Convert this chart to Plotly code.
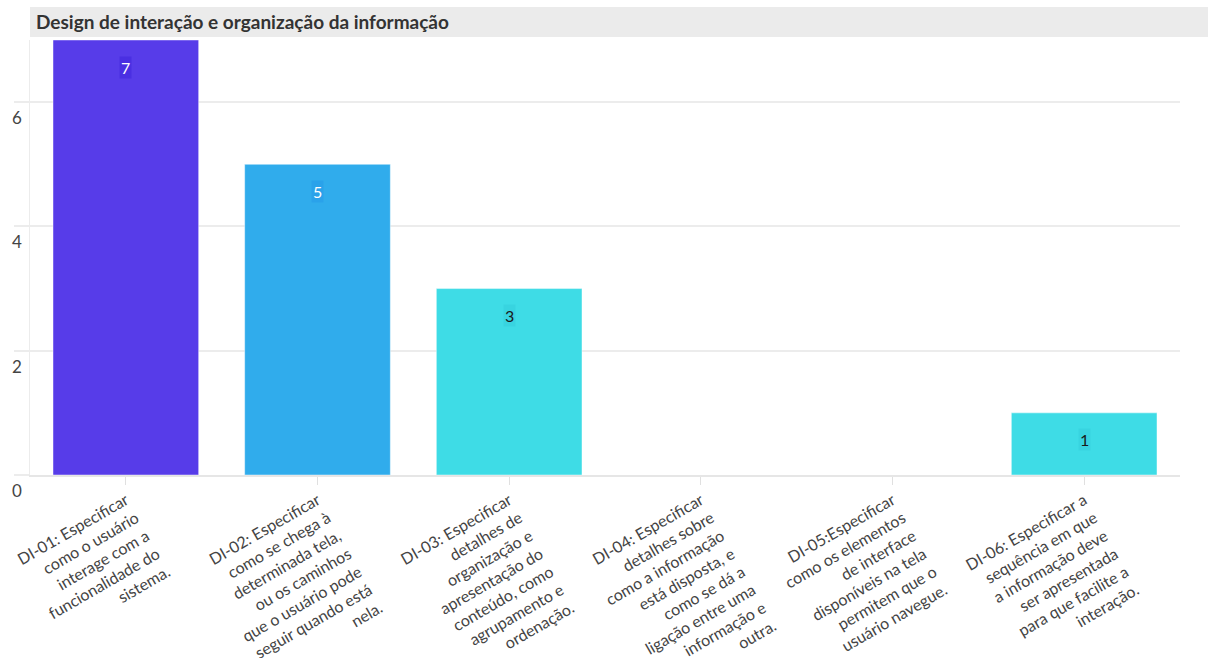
import plotly.graph_objects as go

categories = [
    "DI-01: Especificar<br>como o usuário<br>interage com a<br>funcionalidade do<br>sistema.",
    "DI-02: Especificar<br>como se chega à<br>determinada tela,<br>ou os caminhos<br>que o usuário pode<br>seguir quando está<br>nela.",
    "DI-03: Especificar<br>detalhes de<br>organização e<br>apresentação do<br>conteúdo, como<br>agrupamento e<br>ordenação.",
    "DI-04: Especificar<br>detalhes sobre<br>como a informação<br>está disposta, e<br>como se dá a<br>ligação entre uma<br>informação e<br>outra.",
    "DI-05:Especificar<br>como os elementos<br>de interface<br>disponíveis na tela<br>permitem que o<br>usuário navegue.",
    "DI-06: Especificar a<br>sequência em que<br>a informação deve<br>ser apresentada<br>para que facilite a<br>interação.",
]
values = [7, 5, 3, 0, 0, 1]
bar_colors = ["#573ce9", "#30acec", "#3edce6", "#3edce6", "#3edce6", "#3edce6"]
label_bg = ["#4a2fe2", "#2aa2ea", "#38d4e0", "#38d4e0", "#38d4e0", "#38d4e0"]
label_fg = ["#ffffff", "#ffffff", "#1a1a1a", "#1a1a1a", "#1a1a1a", "#1a1a1a"]
title = "Design de interação e organização da informação"
ytick_vals = [0, 2, 4, 6]

FONT = "Lato"

fig = go.Figure()
fig.add_trace(go.Bar(
    x=list(range(len(categories))),
    y=values,
    marker=dict(color=bar_colors, line=dict(color="rgba(255,255,255,0.45)", width=1)),
    width=0.76,
    hoverinfo="skip",
))

for i, v in enumerate(values):
    if v > 0:
        fig.add_annotation(
            x=i, y=v, xref="x", yref="y", text=str(v), showarrow=False,
            yshift=-27, font=dict(family=FONT, size=16, color=label_fg[i]),
            bgcolor=label_bg[i], borderpad=1,
        )

# y tick labels placed just below their gridlines
for v in ytick_vals:
    fig.add_annotation(
        xref="paper", yref="y", x=0, y=v, text=str(v), showarrow=False,
        xanchor="right", yanchor="top", xshift=-6, yshift=-3,
        font=dict(family=FONT, size=17, color="#444444"),
    )

# strip title
fig.add_shape(type="rect", xref="paper", yref="paper", x0=0, x1=1.0245,
              ysizemode="pixel", yanchor=1, y0=3, y1=33,
              fillcolor="#ebebeb", line=dict(width=0), layer="below")
fig.add_annotation(xref="paper", yref="paper", x=0, y=1, xanchor="left", yanchor="bottom",
                   yshift=5, xshift=4, text="<b>" + title + "</b>", showarrow=False,
                   font=dict(family=FONT, size=19, color="#333333"))

fig.update_layout(
    width=1208, height=658,
    margin=dict(l=30, r=28, t=40, b=183),
    paper_bgcolor="white", plot_bgcolor="white",
    showlegend=False,
    font=dict(family=FONT, color="#444444"),
    xaxis=dict(
        range=[-0.5, 5.5], automargin=False,
        tickmode="array", tickvals=list(range(len(categories))), ticktext=categories,
        tickangle=-30, tickfont=dict(family=FONT, size=16, color="#444444"),
        showgrid=False, zeroline=False,
        showline=True, linecolor="#e6e6e6", linewidth=2,
        ticks="outside", ticklen=8, tickcolor="#e0e0e0", tickwidth=1,
    ),
    yaxis=dict(
        range=[0, 7], tickvals=ytick_vals, automargin=False,
        showticklabels=False,
        showgrid=True, gridcolor="#ececec", gridwidth=2,
        zeroline=False,
        showline=True, linecolor="#ececec", linewidth=1,
        ticks="outside", ticklen=15, tickcolor="#ececec", tickwidth=2,
    ),
)

fig.write_html("out.html")
